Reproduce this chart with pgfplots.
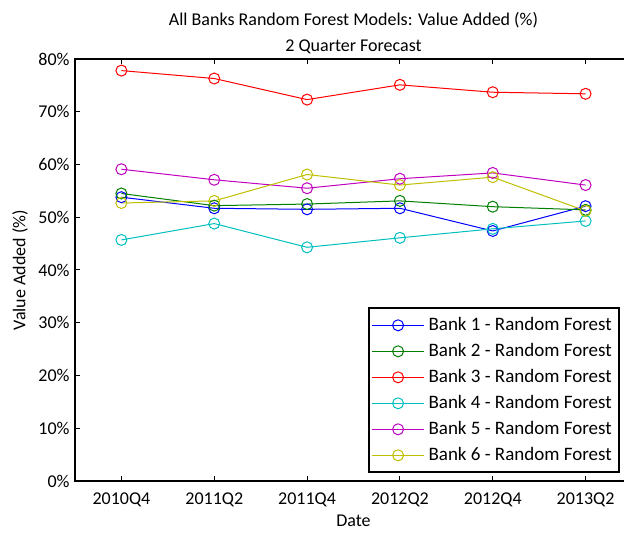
\documentclass[border=0pt]{standalone}
\usepackage{pgfplots}
\pgfplotsset{compat=1.18}
\usepackage{fontspec}
\setmainfont{Carlito}
\definecolor{mblue}{RGB}{0,0,255}
\definecolor{mgreen}{RGB}{0,128,0}
\definecolor{mred}{RGB}{255,0,0}
\definecolor{mcyan}{RGB}{0,191,191}
\definecolor{mmag}{RGB}{191,0,191}
\definecolor{myel}{RGB}{191,191,0}
\begin{document}
\begin{tikzpicture}
\begin{axis}[
  at={(0pt,0pt)}, anchor=south west,
  scale only axis, width=278.5pt, height=211pt,
  xmin=0.5, xmax=6.5, ymin=0, ymax=80,
  xtick={1,2,3,4,5,6},
  xticklabels={2010Q4,2011Q2,2011Q4,2012Q2,2012Q4,2013Q2},
  ytick={0,10,20,30,40,50,60,70,80},
  yticklabels={0\%,10\%,20\%,30\%,40\%,50\%,60\%,70\%,80\%},
  tick align=inside, xtick pos=both, ytick pos=both,
  major tick length=2.5pt,
  tick style={black, line width=0.5pt},
  axis line style={line width=1pt},
  ticklabel style={font=\fontsize{9}{11}\selectfont},
  xticklabel style={anchor=base, yshift=-11.5pt},
  yticklabel style={inner sep=2.5pt},
  xlabel={Date},
  xlabel style={at={(axis description cs:0.5,-0.0948)}, anchor=center, font=\fontsize{9}{11}\selectfont},
  ylabel={Value Added (\%)},
  ylabel style={at={(axis description cs:-0.0987,0.5)}, anchor=center, font=\fontsize{9}{11}\selectfont},
  every axis plot/.append style={line width=0.5pt, mark=o, mark size=2.75pt, mark options={solid, line width=0.5pt}},
  legend image code/.code={\draw[mark repeat=2, mark phase=2] plot coordinates {(0pt,0pt) (13pt,0pt) (26pt,0pt)};},
  legend style={at={(0.978,0.0182)}, anchor=south east, draw=black, line width=1pt,
    font=\fontsize{9.5}{11}\selectfont, inner xsep=1.5pt, inner ysep=2pt, row sep=0pt,
    nodes={text height=7pt, text depth=2pt, inner ysep=2pt, inner xsep=2pt},
    cells={anchor=west}},
  legend cell align=left,
]
\addplot[color=mblue] coordinates {(1,53.8) (2,51.7) (3,51.5) (4,51.7) (5,47.4) (6,52.1)};
\addlegendentry{Bank 1 - Random Forest}
\addplot[color=mgreen] coordinates {(1,54.5) (2,52.2) (3,52.5) (4,53.1) (5,52.0) (6,51.4)};
\addlegendentry{Bank 2 - Random Forest}
\addplot[color=mred] coordinates {(1,77.8) (2,76.3) (3,72.3) (4,75.1) (5,73.7) (6,73.4)};
\addlegendentry{Bank 3 - Random Forest}
\addplot[color=mcyan] coordinates {(1,45.7) (2,48.8) (3,44.3) (4,46.1) (5,47.8) (6,49.3)};
\addlegendentry{Bank 4 - Random Forest}
\addplot[color=mmag] coordinates {(1,59.1) (2,57.1) (3,55.5) (4,57.3) (5,58.4) (6,56.1)};
\addlegendentry{Bank 5 - Random Forest}
\addplot[color=myel] coordinates {(1,52.7) (2,53.1) (3,58.1) (4,56.1) (5,57.6) (6,51.2)};
\addlegendentry{Bank 6 - Random Forest}
\end{axis}
\node[anchor=base, font=\fontsize{9}{11}\selectfont] at (139.25pt,227.75pt) {All Banks Random Forest Models: Value Added (\%)};
\node[anchor=base, font=\fontsize{9}{11}\selectfont] at (139.25pt,214.75pt) {2 Quarter Forecast};
\pgfresetboundingbox
\path (-37.5pt,-26pt) rectangle (274.5pt,240.5pt);
\end{tikzpicture}
\end{document}
